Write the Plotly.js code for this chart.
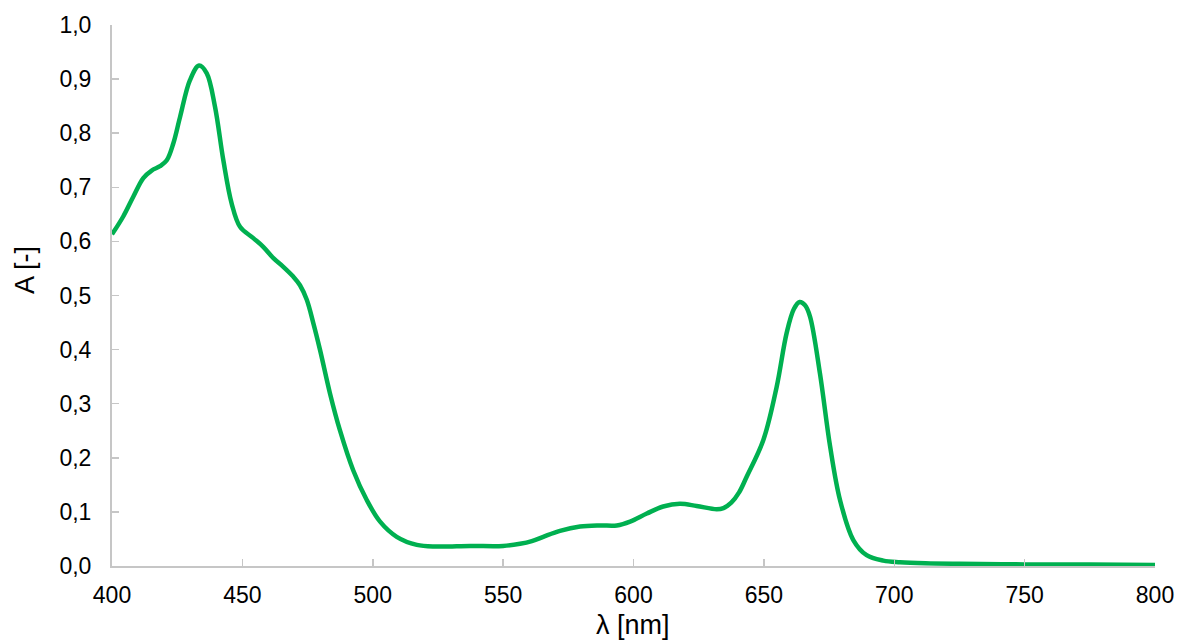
<!DOCTYPE html>
<html>
<head>
<meta charset="utf-8">
<script src="https://cdn.plot.ly/plotly-3.0.1.min.js"></script>
<style>html,body{margin:0;padding:0;background:#fff;}#chart{width:1180px;height:644px;}</style>
</head>
<body>
<div id="chart"></div>
<script>
// Wavelength (nm) and absorbance (-)
const wavelength = [400, 404.3, 408.2, 412, 415.2, 418.4, 421, 423.5, 426.1, 429.9, 433.4, 436.3, 439.5, 442.7, 445.9, 449.1, 454.2, 458, 461.9, 465.7, 469.5, 472.1, 474.7, 477.2, 479.8, 483.6, 487.4, 492.5, 497.7, 502.8, 509.2, 516.9, 524.5, 537.3, 550, 556.5, 561, 565.4, 571.8, 579.5, 587.1, 593.6, 598.7, 605.1, 611.4, 617.8, 624.2, 631.9, 634.5, 637.5, 640.5, 643.4, 649.8, 654.9, 658.7, 661.5, 663.7, 665.8, 667.7, 671.5, 675.4, 679.2, 684.3, 689.4, 695.8, 702.2, 712, 725, 750, 775, 800];
const absorbance = [0.613, 0.646, 0.683, 0.717, 0.731, 0.739, 0.750, 0.781, 0.830, 0.898, 0.925, 0.911, 0.849, 0.750, 0.670, 0.627, 0.606, 0.590, 0.569, 0.553, 0.535, 0.519, 0.492, 0.449, 0.399, 0.319, 0.251, 0.177, 0.122, 0.082, 0.054, 0.039, 0.036, 0.037, 0.037, 0.041, 0.046, 0.054, 0.065, 0.073, 0.075, 0.075, 0.082, 0.097, 0.110, 0.115, 0.111, 0.105, 0.107, 0.117, 0.136, 0.165, 0.233, 0.331, 0.430, 0.475, 0.488, 0.482, 0.461, 0.356, 0.221, 0.122, 0.048, 0.020, 0.010, 0.007, 0.005, 0.004, 0.003, 0.003, 0.002];

const xTickVals = [400, 450, 500, 550, 600, 650, 700, 750, 800];
const yTickVals = [0, 0.1, 0.2, 0.3, 0.4, 0.5, 0.6, 0.7, 0.8, 0.9, 1.0];
const xTitle = 'λ [nm]';
const yTitle = 'A [-]';

const fam = '"Liberation Sans", Arial, sans-serif';
const font = {family: fam, size: 23, color: '#000000'};
const titleFont = {family: fam, size: 27, color: '#000000'};

const trace = {
  x: wavelength,
  y: absorbance,
  type: 'scatter',
  mode: 'lines',
  line: {color: '#00b050', width: 4.5, shape: 'spline', smoothing: 1},
  hoverinfo: 'x+y'
};

const axisCommon = {
  ticks: 'inside',
  ticklen: 7,
  tickwidth: 1.5,
  tickcolor: '#c6c6c6',
  showline: true,
  linecolor: '#c6c6c6',
  linewidth: 2,
  showgrid: false,
  zeroline: false,
  tickfont: font
};

const layout = {
  width: 1180,
  height: 644,
  margin: {l: 112, r: 25, t: 25, b: 78, pad: 0},
  paper_bgcolor: '#ffffff',
  plot_bgcolor: '#ffffff',
  separators: ', ',
  showlegend: false,
  font: font,
  xaxis: Object.assign({}, axisCommon, {
    range: [400, 800],
    tickvals: xTickVals,
    ticklabelstandoff: 7
  }),
  yaxis: Object.assign({}, axisCommon, {
    range: [0, 1.0],
    tickvals: yTickVals,
    tickformat: '.1f',
    ticklabelstandoff: 14
  }),
  annotations: [
    {
      text: xTitle, font: titleFont, showarrow: false,
      xref: 'paper', yref: 'paper',
      x: (633 - 112) / 1043, xanchor: 'center',
      y: (566 - 609) / 541, yanchor: 'top',
      borderpad: 0
    },
    {
      text: yTitle, font: titleFont, showarrow: false, textangle: -90,
      xref: 'paper', yref: 'paper',
      x: (25 - 112) / 1043, xanchor: 'center',
      y: (566 - 270) / 541, yanchor: 'middle'
    }
  ]
};

Plotly.newPlot('chart', [trace], layout, {displayModeBar: false, staticPlot: true});
</script>
</body>
</html>
